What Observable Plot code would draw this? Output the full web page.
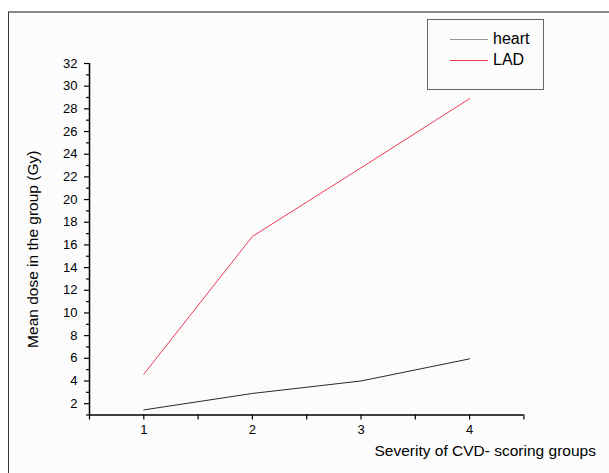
<!DOCTYPE html>
<html><head><meta charset="utf-8">
<script src="https://cdn.jsdelivr.net/npm/d3@7"></script>
<script src="https://cdn.jsdelivr.net/npm/@observablehq/plot@0.6"></script>
<style>
html,body{margin:0;padding:0;background:#fff;}
#wrap{position:relative;width:609px;height:473px;overflow:hidden;font-family:"Liberation Sans",Arial,sans-serif;}
#border{position:absolute;left:8px;top:11px;width:700px;height:600px;border-left:1.5px solid #333;border-top:2px solid #888;background:#fcfcfc;}
#chart{position:absolute;left:0;top:0;}
#legend{position:absolute;left:427px;top:19px;width:115px;height:69px;border:1.5px solid #666;background:#fcfcfc;}
.lg-row{position:absolute;left:0;height:20px;display:flex;align-items:center;}
.lg-line{display:inline-block;width:38px;height:0;margin-left:22px;margin-right:5px;}
.lg-text{font-size:16px;color:#000;}
</style>
</head><body>
<div id="wrap"><div id="border"></div><div id="chart"></div><div id="legend"></div></div>
<script>
const groups = [1, 2, 3, 4];
const heart = [1.45, 2.9, 4.0, 5.95];
const lad = [4.6, 16.75, 22.8, 28.9];
const seriesNames = ["heart", "LAD"];
const seriesColors = ["#2a2a2a", "#ee3b55"];
const xTicks = [1, 2, 3, 4];
const xMinorTicks = [0.5, 1.5, 2.5, 3.5, 4.5];
const yTicks = [2, 4, 6, 8, 10, 12, 14, 16, 18, 20, 22, 24, 26, 28, 30, 32];
const yMinorTicks = [1, 3, 5, 7, 9, 11, 13, 15, 17, 19, 21, 23, 25, 27, 29, 31];
const xLabel = "Severity of CVD- scoring groups";
const yLabel = "Mean dose in the group (Gy)";

const data = groups.flatMap((g, i) => [
  {group: g, dose: heart[i], series: "heart"},
  {group: g, dose: lad[i], series: "LAD"}
]);

const chart = Plot.plot({
  width: 609, height: 473,
  marginLeft: 89, marginRight: 85.6, marginTop: 63, marginBottom: 58.5,
  style: {background: "transparent", fontFamily: "'Liberation Sans', Arial, sans-serif", fontSize: "13px", color: "#000"},
  x: {domain: [0.5, 4.5]},
  y: {domain: [1, 32]},
  color: {domain: seriesNames, range: seriesColors},
  marks: [
    Plot.axisY(yMinorTicks, {tickSize: 3, text: null, label: null, strokeWidth: 1.2}),
    Plot.axisY(yTicks, {tickSize: 5, tickPadding: 7, label: null, strokeWidth: 1.2}),
    Plot.axisX(xMinorTicks, {tickSize: 5, text: null, label: null, strokeWidth: 1.2}),
    Plot.axisX(xTicks, {tickSize: 5, tickPadding: 5, label: null, strokeWidth: 1.2}),
    Plot.ruleX([0.5], {y1: 1, y2: 32, strokeWidth: 1.5}),
    Plot.ruleY([1], {x1: 0.5, x2: 4.5, strokeWidth: 1.5}),
    Plot.line(data, {x: "group", y: "dose", z: "series", stroke: "series", strokeWidth: 1}),
    Plot.text([yLabel], {frameAnchor: "left", rotate: -90, dx: -56, dy: 10, textAnchor: "middle", lineAnchor: "middle", fontSize: 15.5}),
    Plot.text([xLabel], {frameAnchor: "bottom-right", dx: 72, dy: 36, textAnchor: "end", lineAnchor: "middle", fontSize: 15.5})
  ]
});
document.getElementById("chart").appendChild(chart);

const legend = document.getElementById("legend");
seriesNames.forEach((name, i) => {
  const row = document.createElement("div");
  row.className = "lg-row";
  row.style.top = (9 + i * 21) + "px";
  const ln = document.createElement("span");
  ln.className = "lg-line";
  ln.style.borderTop = "1.5px solid " + (i === 0 ? "#999" : seriesColors[i]);
  const tx = document.createElement("span");
  tx.className = "lg-text";
  tx.textContent = name;
  row.appendChild(ln); row.appendChild(tx);
  legend.appendChild(row);
});
</script>
</body></html>
